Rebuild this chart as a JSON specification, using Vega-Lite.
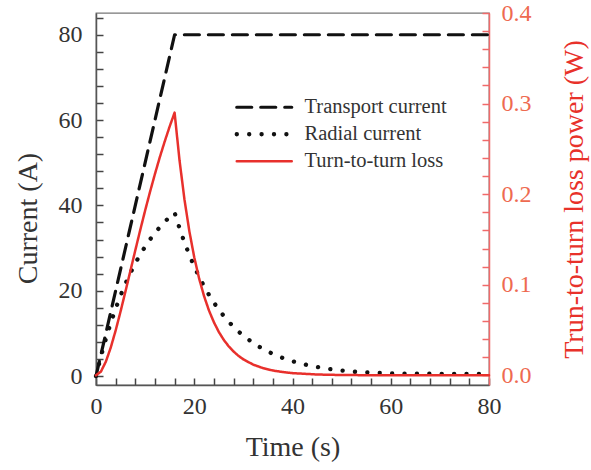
{
  "$schema": "https://vega.github.io/schema/vega-lite/v6.json",
  "width": 393,
  "height": 372,
  "autosize": {"type": "none"},
  "padding": {"left": 96, "top": 13, "right": 102, "bottom": 85},
  "background": "white",
  "config": {
    "view": {"stroke": "#777", "strokeWidth": 1.3},
    "font": "Liberation Serif",
    "axis": {"grid": false, "ticks": true, "zindex": 1, "labelFont": "Liberation Serif", "titleFont": "Liberation Serif", "titleFontWeight": "normal", "labelFlush": false, "labelOverlap": false, "labelBound": false}
  },
  "datasets": {
    "curves": [
      {"t": 0, "value": 0, "series": "Transport current"},
      {"t": 16, "value": 80, "series": "Transport current"},
      {"t": 80, "value": 80, "series": "Transport current"},
      {"t": 0, "value": 0, "series": "Radial current"},
      {"t": 1, "value": 4.57, "series": "Radial current"},
      {"t": 2, "value": 8.70, "series": "Radial current"},
      {"t": 3, "value": 12.44, "series": "Radial current"},
      {"t": 4, "value": 15.82, "series": "Radial current"},
      {"t": 5, "value": 18.89, "series": "Radial current"},
      {"t": 6, "value": 21.66, "series": "Radial current"},
      {"t": 7, "value": 24.16, "series": "Radial current"},
      {"t": 8, "value": 26.43, "series": "Radial current"},
      {"t": 9, "value": 28.48, "series": "Radial current"},
      {"t": 10, "value": 30.34, "series": "Radial current"},
      {"t": 11, "value": 32.02, "series": "Radial current"},
      {"t": 12, "value": 33.54, "series": "Radial current"},
      {"t": 13, "value": 34.92, "series": "Radial current"},
      {"t": 14, "value": 36.16, "series": "Radial current"},
      {"t": 15, "value": 37.29, "series": "Radial current"},
      {"t": 16, "value": 38.31, "series": "Radial current"},
      {"t": 17, "value": 34.66, "series": "Radial current"},
      {"t": 18, "value": 31.36, "series": "Radial current"},
      {"t": 19, "value": 28.38, "series": "Radial current"},
      {"t": 20, "value": 25.68, "series": "Radial current"},
      {"t": 21, "value": 23.24, "series": "Radial current"},
      {"t": 22, "value": 21.03, "series": "Radial current"},
      {"t": 23, "value": 19.02, "series": "Radial current"},
      {"t": 24, "value": 17.21, "series": "Radial current"},
      {"t": 25, "value": 15.58, "series": "Radial current"},
      {"t": 26, "value": 14.09, "series": "Radial current"},
      {"t": 27, "value": 12.75, "series": "Radial current"},
      {"t": 28, "value": 11.54, "series": "Radial current"},
      {"t": 29, "value": 10.44, "series": "Radial current"},
      {"t": 30, "value": 9.45, "series": "Radial current"},
      {"t": 32, "value": 7.73, "series": "Radial current"},
      {"t": 34, "value": 6.33, "series": "Radial current"},
      {"t": 36, "value": 5.18, "series": "Radial current"},
      {"t": 38, "value": 4.25, "series": "Radial current"},
      {"t": 40, "value": 3.48, "series": "Radial current"},
      {"t": 42, "value": 2.85, "series": "Radial current"},
      {"t": 44, "value": 2.33, "series": "Radial current"},
      {"t": 46, "value": 1.91, "series": "Radial current"},
      {"t": 48, "value": 1.56, "series": "Radial current"},
      {"t": 50, "value": 1.28, "series": "Radial current"},
      {"t": 53, "value": 0.98, "series": "Radial current"},
      {"t": 56, "value": 0.78, "series": "Radial current"},
      {"t": 60, "value": 0.62, "series": "Radial current"},
      {"t": 65, "value": 0.55, "series": "Radial current"},
      {"t": 70, "value": 0.52, "series": "Radial current"},
      {"t": 75, "value": 0.5, "series": "Radial current"},
      {"t": 80, "value": 0.5, "series": "Radial current"},
      {"t": 0, "value": 0, "series": "Turn-to-turn loss"},
      {"t": 1, "value": 0.0041, "series": "Turn-to-turn loss"},
      {"t": 2, "value": 0.0150, "series": "Turn-to-turn loss"},
      {"t": 3, "value": 0.0306, "series": "Turn-to-turn loss"},
      {"t": 4, "value": 0.0495, "series": "Turn-to-turn loss"},
      {"t": 5, "value": 0.0705, "series": "Turn-to-turn loss"},
      {"t": 6, "value": 0.0927, "series": "Turn-to-turn loss"},
      {"t": 7, "value": 0.1153, "series": "Turn-to-turn loss"},
      {"t": 8, "value": 0.1380, "series": "Turn-to-turn loss"},
      {"t": 9, "value": 0.1603, "series": "Turn-to-turn loss"},
      {"t": 10, "value": 0.1819, "series": "Turn-to-turn loss"},
      {"t": 11, "value": 0.2026, "series": "Turn-to-turn loss"},
      {"t": 12, "value": 0.2223, "series": "Turn-to-turn loss"},
      {"t": 13, "value": 0.2410, "series": "Turn-to-turn loss"},
      {"t": 14, "value": 0.2584, "series": "Turn-to-turn loss"},
      {"t": 15, "value": 0.2748, "series": "Turn-to-turn loss"},
      {"t": 16, "value": 0.2900, "series": "Turn-to-turn loss"},
      {"t": 17, "value": 0.2374, "series": "Turn-to-turn loss"},
      {"t": 18, "value": 0.1944, "series": "Turn-to-turn loss"},
      {"t": 19, "value": 0.1592, "series": "Turn-to-turn loss"},
      {"t": 20, "value": 0.1303, "series": "Turn-to-turn loss"},
      {"t": 21, "value": 0.1067, "series": "Turn-to-turn loss"},
      {"t": 22, "value": 0.0874, "series": "Turn-to-turn loss"},
      {"t": 23, "value": 0.0715, "series": "Turn-to-turn loss"},
      {"t": 24, "value": 0.0586, "series": "Turn-to-turn loss"},
      {"t": 25, "value": 0.0479, "series": "Turn-to-turn loss"},
      {"t": 26, "value": 0.0392, "series": "Turn-to-turn loss"},
      {"t": 27, "value": 0.0321, "series": "Turn-to-turn loss"},
      {"t": 28, "value": 0.0263, "series": "Turn-to-turn loss"},
      {"t": 29, "value": 0.0215, "series": "Turn-to-turn loss"},
      {"t": 30, "value": 0.0176, "series": "Turn-to-turn loss"},
      {"t": 32, "value": 0.0118, "series": "Turn-to-turn loss"},
      {"t": 34, "value": 0.0079, "series": "Turn-to-turn loss"},
      {"t": 36, "value": 0.0053, "series": "Turn-to-turn loss"},
      {"t": 38, "value": 0.0036, "series": "Turn-to-turn loss"},
      {"t": 40, "value": 0.0024, "series": "Turn-to-turn loss"},
      {"t": 45, "value": 0.0009, "series": "Turn-to-turn loss"},
      {"t": 50, "value": 0.0003, "series": "Turn-to-turn loss"},
      {"t": 60, "value": 0, "series": "Turn-to-turn loss"},
      {"t": 80, "value": 0, "series": "Turn-to-turn loss"}
    ]
  },
  "data": {"name": "curves"},
  "encoding": {
    "x": {
      "field": "t", "type": "quantitative",
      "scale": {"domain": [0, 80], "nice": false, "zero": false},
      "axis": {
        "title": "Time (s)",
        "values": [0,4,8,12,16,20,24,28,32,36,40,44,48,52,56,60,64,68,72,76,80],
        "labelExpr": "datum.value % 20 === 0 ? datum.label : ''",
        "tickSize": -7,
        "tickColor": "#444", "tickWidth": 1.5,
        "domainColor": "#555", "domainWidth": 1.5,
        "labelFontSize": 24, "labelColor": "#333", "labelPadding": 16.5,
        "titleFontSize": 28, "titleColor": "#333", "titlePadding": 15
      }
    },
    "color": {
      "field": "series", "type": "nominal",
      "scale": {"domain": ["Transport current", "Radial current", "Turn-to-turn loss"], "range": ["#111111", "#111111", "#e8302c"]},
      "legend": {
        "orient": "none", "legendX": 158, "legendY": 84, "title": null,
        "symbolType": "stroke", "symbolSize": 3025, "padding": 0,
        "labelFontSize": 20.5, "labelFont": "Liberation Serif", "labelColor": "#333",
        "labelOffset": 30, "rowPadding": 6,
        "encode": {"symbols": {"update": {
          "strokeCap": {"value": "round"},
          "strokeWidth": {"signal": "datum.value === 'Radial current' ? 4.3 : (datum.value === 'Transport current' ? 3.2 : 2.5)"}
        }}}
      }
    },
    "strokeDash": {
      "field": "series", "type": "nominal",
      "scale": {"domain": ["Transport current", "Radial current", "Turn-to-turn loss"], "range": [[15, 9], [0.1, 12.3], [1, 0]]}
    }
  },
  "layer": [
    {
      "encoding": {
        "y": {
          "field": "value", "type": "quantitative",
          "scale": {"domain": [-2.1, 85.1], "nice": false, "zero": false},
          "axis": {
            "orient": "left",
            "title": "Current (A)",
            "values": [0,4,8,12,16,20,24,28,32,36,40,44,48,52,56,60,64,68,72,76,80,84],
            "labelExpr": "datum.value % 20 === 0 ? datum.label : ''",
            "tickSize": -7,
            "tickColor": "#444", "tickWidth": 1.5,
            "domainColor": "#555", "domainWidth": 1.5,
            "labelFontSize": 24, "labelColor": "#333", "labelPadding": 21,
            "titleFontSize": 28, "titleColor": "#333", "titlePadding": 16, "titleY": 205
          }
        }
      },
      "layer": [
        {
          "transform": [{"filter": "datum.series === 'Transport current'"}],
          "mark": {"type": "line", "strokeCap": "round", "strokeJoin": "round", "strokeWidth": 3.2}
        },
        {
          "transform": [{"filter": "datum.series === 'Radial current'"}],
          "mark": {"type": "line", "strokeCap": "round", "strokeJoin": "round", "strokeWidth": 4.3}
        }
      ]
    },
    {
      "transform": [{"filter": "datum.series === 'Turn-to-turn loss'"}],
      "mark": {"type": "line", "strokeCap": "round", "strokeJoin": "round", "strokeWidth": 2.5},
      "encoding": {
        "y": {
          "field": "value", "type": "quantitative",
          "scale": {"domain": [-0.0107, 0.4], "nice": false, "zero": false},
          "axis": {
            "orient": "right",
            "title": "Trun-to-turn loss power (W)",
            "values": [0,0.02,0.04,0.06,0.08,0.1,0.12,0.14,0.16,0.18,0.2,0.22,0.24,0.26,0.28,0.3,0.32,0.34,0.36,0.38,0.4],
            "format": ".1f",
            "labelExpr": "abs(datum.value*10 - round(datum.value*10)) < 0.001 ? datum.label : ''",
            "tickSize": -7,
            "tickColor": "#f06a6a", "tickWidth": 1.5,
            "domainColor": "#f06a6a", "domainWidth": 1.5,
            "labelFontSize": 24, "labelColor": "#ee6a50", "labelPadding": 19,
            "titleFontSize": 28, "titleColor": "#e8312a", "titleAngle": 270, "titlePadding": 57
          }
        }
      }
    }
  ],
  "resolve": {"scale": {"y": "independent"}}
}
